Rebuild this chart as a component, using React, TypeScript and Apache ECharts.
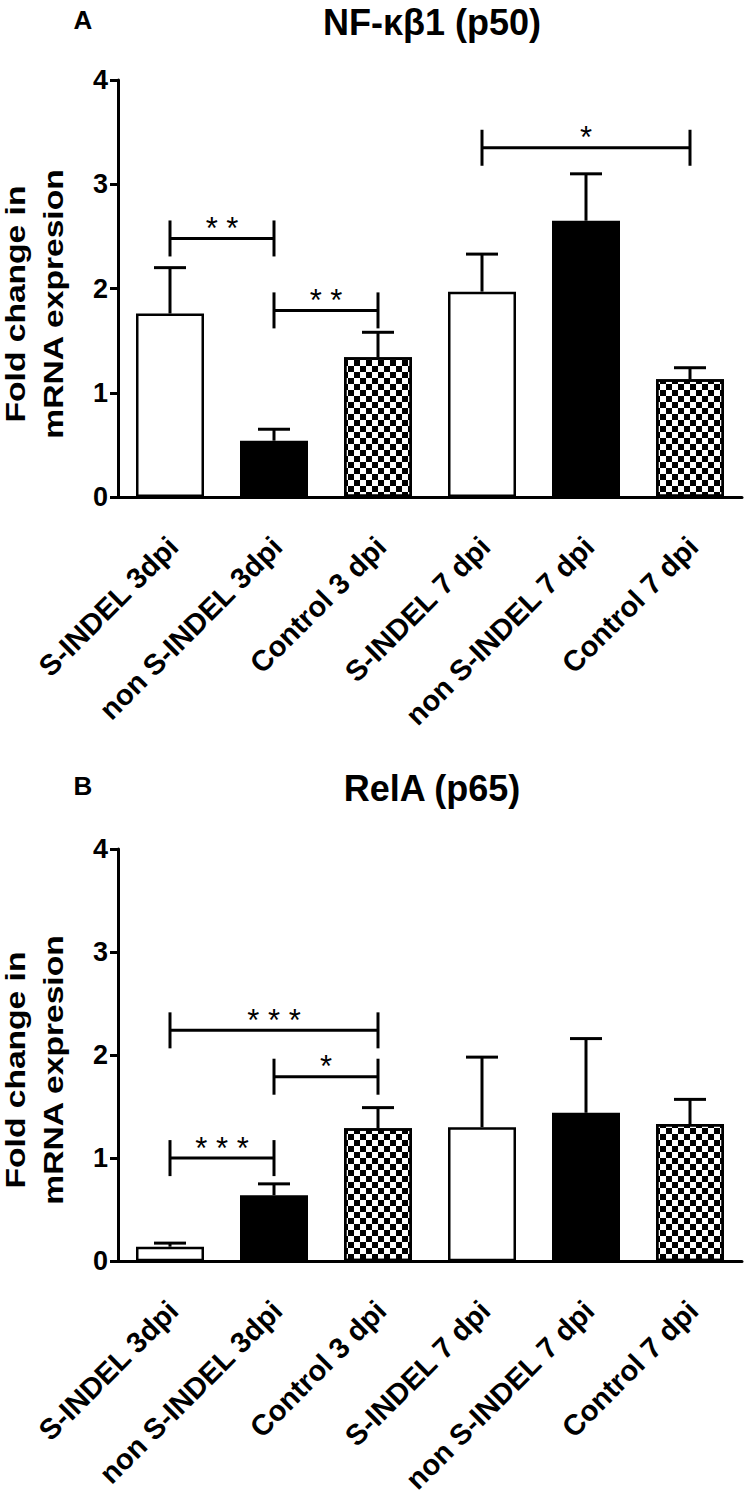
import React, { useEffect, useRef } from 'react';
import * as echarts from 'echarts';

// ---------- data ----------
const categories = [
  'S-INDEL 3dpi',
  'non S-INDEL 3dpi',
  'Control 3 dpi',
  'S-INDEL 7 dpi',
  'non S-INDEL 7 dpi',
  'Control 7 dpi',
];
const barFills = ['white', 'black', 'checker', 'white', 'black', 'checker'];

const p50Mean = [1.76, 0.54, 1.34, 1.97, 2.65, 1.13];
const p50Sem = [0.44, 0.11, 0.24, 0.36, 0.45, 0.11];

const p65Mean = [0.14, 0.64, 1.29, 1.3, 1.44, 1.33];
const p65Sem = [0.035, 0.11, 0.2, 0.68, 0.72, 0.24];

const yMin = 0;
const yMax = 4;
const yInterval = 1;

// significance brackets: from category, to category, height, stars
const p50BracketFrom = [0, 1, 3];
const p50BracketTo = [1, 2, 5];
const p50BracketY = [2.48, 1.79, 3.35];
const p50BracketLabel = ['* *', '* *', '*'];

const p65BracketFrom = [0, 1, 0];
const p65BracketTo = [2, 2, 1];
const p65BracketY = [2.24, 1.79, 1.0];
const p65BracketLabel = ['* * *', '*', '* * *'];

const panelTitles = ['NF-κβ1 (p50)', 'RelA (p65)'];
const panelLetters = ['A', 'B'];
const yAxisName = 'Fold change in\nmRNA expresion';

// ---------- styling ----------
const FONT = '"Liberation Sans", Arial, Helvetica, sans-serif';

const checkerDecal = {
  symbol: 'rect',
  symbolSize: 1,
  color: '#000',
  backgroundColor: '#fff',
  dashArrayX: [
    [6, 6],
    [0, 6, 6, 0],
  ],
  dashArrayY: [6, 0],
  rotation: 0,
};

function itemStyleFor(kind: string) {
  if (kind === 'black') return { color: '#000' };
  if (kind === 'checker') return { color: '#fff', decal: checkerDecal };
  return { color: '#fff' };
}

export default function App() {
  const ref = useRef<HTMLDivElement>(null);

  useEffect(() => {
    document.body.style.margin = '0';
    if (!ref.current) return;
    const chart = echarts.init(ref.current, undefined, { renderer: 'svg' });

    const panels = [
      {
        mean: p50Mean,
        sem: p50Sem,
        from: p50BracketFrom,
        to: p50BracketTo,
        by: p50BracketY,
        bl: p50BracketLabel,
      },
      {
        mean: p65Mean,
        sem: p65Sem,
        from: p65BracketFrom,
        to: p65BracketTo,
        by: p65BracketY,
        bl: p65BracketLabel,
      },
    ];

    const grids = [
      { left: 118, top: 80, width: 624, height: 417 },
      { left: 118, top: 849, width: 624, height: 414 },
    ];

    const xAxes = grids.map((_, i) => ({
      type: 'category',
      gridIndex: i,
      data: categories,
      axisLine: { lineStyle: { color: '#000', width: 3 } },
      axisTick: { alignWithLabel: true, length: 11, lineStyle: { color: '#000', width: 3 } },
      axisLabel: {
        rotate: 45,
        interval: 0,
        margin: 16,
        color: '#000',
        fontFamily: FONT,
        fontWeight: 'bold',
        fontSize: 29,
        verticalAlign: 'top',
        padding: [8, 18, 0, 0],
      },
    }));

    const yAxes = grids.map((_, i) => ({
      type: 'value',
      gridIndex: i,
      min: yMin,
      max: yMax,
      interval: yInterval,
      splitLine: { show: false },
      axisLine: { show: true, lineStyle: { color: '#000', width: 3 } },
      axisTick: { show: true, length: 8, lineStyle: { color: '#000', width: 3 } },
      axisLabel: {
        margin: 10,
        color: '#000',
        fontFamily: FONT,
        fontWeight: 'bold',
        fontSize: 27,
      },
    }));

    const series: any[] = [];
    panels.forEach((p, i) => {
      series.push({
        type: 'bar',
        xAxisIndex: i,
        yAxisIndex: i,
        barWidth: 68,
        z: 2,
        itemStyle: { borderColor: '#000', borderWidth: 2.5 },
        data: p.mean.map((v, k) => ({ value: v, itemStyle: itemStyleFor(barFills[k]) })),
      });
      series.push({
        type: 'custom',
        xAxisIndex: i,
        yAxisIndex: i,
        z: 3,
        encode: { x: 0, y: 1 },
        data: p.mean.map((v, k) => [k, v, v + p.sem[k]]),
        renderItem: (_params: any, api: any) => {
          const x = api.value(0);
          const base = api.coord([x, api.value(1)]);
          const top = api.coord([x, api.value(2)]);
          const st = { stroke: '#000', lineWidth: 3 };
          return {
            type: 'group',
            children: [
              { type: 'line', shape: { x1: base[0], y1: base[1], x2: top[0], y2: top[1] }, style: st },
              { type: 'line', shape: { x1: top[0] - 16, y1: top[1], x2: top[0] + 16, y2: top[1] }, style: st },
            ],
          };
        },
      });
      series.push({
        type: 'custom',
        xAxisIndex: i,
        yAxisIndex: i,
        z: 4,
        encode: { x: [0, 1], y: 2 },
        data: p.from.map((f, k) => [f, p.to[k], p.by[k]]),
        renderItem: (params: any, api: any) => {
          const a = api.coord([api.value(0), api.value(2)]);
          const b = api.coord([api.value(1), api.value(2)]);
          const st = { stroke: '#000', lineWidth: 3 };
          const h = 18;
          return {
            type: 'group',
            children: [
              { type: 'line', shape: { x1: a[0], y1: a[1], x2: b[0], y2: b[1] }, style: st },
              { type: 'line', shape: { x1: a[0], y1: a[1] - h, x2: a[0], y2: a[1] + h }, style: st },
              { type: 'line', shape: { x1: b[0], y1: b[1] - h, x2: b[0], y2: b[1] + h }, style: st },
              {
                type: 'text',
                x: (a[0] + b[0]) / 2,
                y: a[1] - 10,
                style: {
                  text: p.bl[params.dataIndex],
                  fontFamily: FONT,
                  fontSize: 31,
                  fill: '#000',
                  align: 'center',
                  verticalAlign: 'middle',
                },
              },
            ],
          };
        },
      });
    });

    const panelOffset = [0, 766];
    const graphic: any[] = [];
    panelOffset.forEach((dy, i) => {
      graphic.push({
        type: 'text',
        x: 83,
        y: 20 + dy,
        style: {
          text: panelLetters[i],
          fontFamily: FONT,
          fontWeight: 'bold',
          fontSize: 26,
          fill: '#000',
          align: 'center',
          verticalAlign: 'middle',
        },
      });
      graphic.push({
        type: 'text',
        x: 432,
        y: 22 + dy,
        style: {
          text: panelTitles[i],
          fontFamily: FONT,
          fontWeight: 'bold',
          fontSize: 36,
          fill: '#000',
          align: 'center',
          verticalAlign: 'middle',
        },
      });
      graphic.push({
        type: 'text',
        x: 34,
        y: 304 + dy,
        rotation: Math.PI / 2,
        scaleX: 1.2,
        style: {
          text: yAxisName,
          fontFamily: FONT,
          fontWeight: 'bold',
          fontSize: 28,
          lineHeight: 38,
          fill: '#000',
          align: 'center',
          verticalAlign: 'middle',
        },
      });
    });

    chart.setOption({
      animation: false,
      backgroundColor: '#fff',
      grid: grids,
      xAxis: xAxes,
      yAxis: yAxes,
      series,
      graphic,
    });

    return () => {
      chart.dispose();
    };
  }, []);

  return <div ref={ref} style={{ width: 750, height: 1497 }} />;
}
